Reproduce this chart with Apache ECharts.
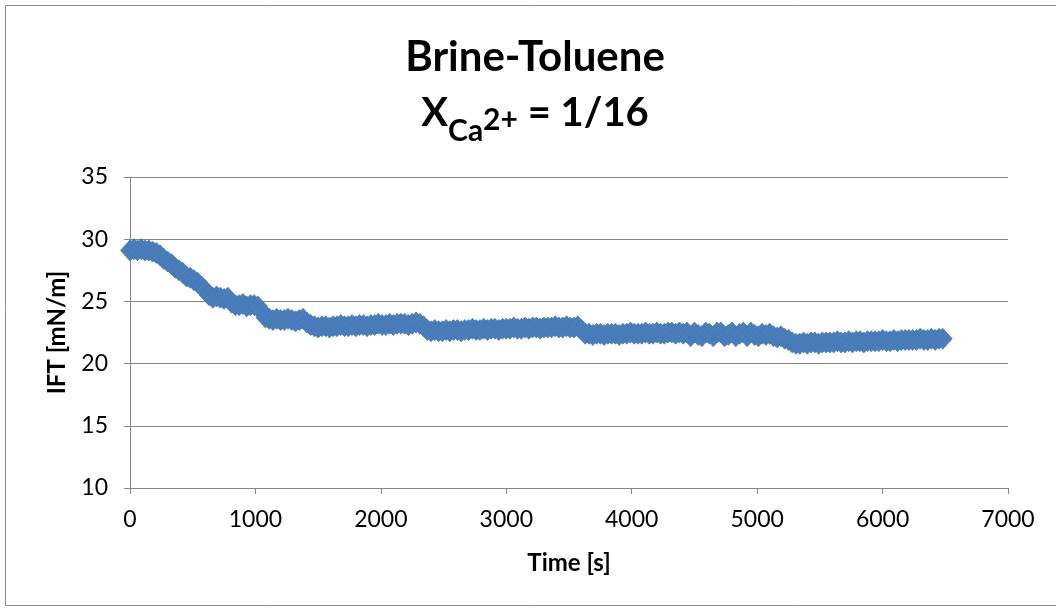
<!DOCTYPE html>
<html>
<head>
<meta charset="utf-8">
<script src="https://cdn.jsdelivr.net/npm/echarts@6/dist/echarts.min.js"></script>
<style>
  html, body { margin: 0; padding: 0; background: #fff; }
  #chart { width: 1056px; height: 610px; }
</style>
</head>
<body>
<div id="chart"></div>
<script>
// sampling interval of the IFT measurement, seconds
const sampleStep = 30
// IFT [mN/m], one value every sampleStep seconds from t = 0
const iftValues = [
  29.1, 29.2, 29.1, 29.2, 29.1, 29.1, 29.0,
  28.9, 28.7, 28.4, 28.2, 28.0, 27.7, 27.5, 27.3, 27.0, 26.9, 26.7, 26.5, 26.2, 25.9, 25.5,
  25.3, 25.4, 25.3, 25.2, 25.3,
  24.9,
  24.7, 24.7, 24.8, 24.6, 24.7, 24.7, 24.6,
  24.2, 23.7,
  23.6, 23.5, 23.6, 23.5, 23.5, 23.6, 23.5, 23.4, 23.5, 23.6,
  23.3, 23.1,
  23.0, 22.9, 23.0, 23.0, 22.9, 23.0, 23.0, 23.1, 23.0, 23.0,
  23.1, 23.0, 23.1, 23.1, 23.0, 23.1, 23.1, 23.2, 23.1, 23.1,
  23.2, 23.1, 23.2, 23.2, 23.2, 23.1, 23.2, 23.3, 23.2,
  23.0, 22.7,
  22.6, 22.7, 22.6, 22.6, 22.7, 22.6, 22.7, 22.7, 22.6, 22.7,
  22.7, 22.8, 22.7, 22.7, 22.8, 22.7, 22.8, 22.8, 22.7, 22.8,
  22.8, 22.8, 22.9, 22.8, 22.8, 22.9, 22.8, 22.9, 22.9, 22.8,
  22.9, 22.9, 22.9, 23.0, 22.9, 22.9, 23.0, 22.9, 22.9, 23.0,
  22.7, 22.4,
  22.4, 22.3, 22.4, 22.4, 22.3, 22.4, 22.4, 22.4, 22.3, 22.4,
  22.4, 22.5, 22.4, 22.4, 22.4, 22.5, 22.4, 22.4, 22.5, 22.4,
  22.4, 22.5, 22.5, 22.4, 22.5, 22.4,
  22.5, 22.2, 22.5, 22.3, 22.2, 22.5, 22.4, 22.2, 22.5, 22.5,
  22.2, 22.3, 22.5, 22.2, 22.4, 22.5, 22.2, 22.5, 22.3, 22.2,
  22.4,
  22.3, 22.4, 22.2, 22.1, 22.2, 22.0, 21.9,
  21.7,
  21.6, 21.6, 21.7, 21.6, 21.7, 21.7, 21.6, 21.7, 21.7, 21.7,
  21.7, 21.8, 21.7, 21.7, 21.8, 21.7, 21.8, 21.8, 21.7, 21.8,
  21.8, 21.8, 21.8, 21.9, 21.8, 21.8, 21.9, 21.8, 21.9, 21.9,
  21.9, 21.9, 21.9, 22.0, 21.9, 21.9, 22.0, 21.9, 22.0, 22.0
]
const xTicks = { min: 0, max: 7000, interval: 1000 }
const yTicks = { min: 10, max: 35, interval: 5 }

const font = 'Lato, "Open Sans", sans-serif'
const gray = '#868686'

let points = iftValues.map((v, i) => [i * sampleStep, v])

let chart = echarts.init(document.getElementById('chart'), null, {renderer: 'canvas'})
let option = {
  animation: false,
  backgroundColor: '#fff',
  grid: {
    left: 130,
    right: 48,
    top: 177,
    bottom: 122
  },
  graphic: [
    {
      type: 'rect',
      silent: true,
      shape: {x: 5.5, y: 5.5, width: 1100, height: 600},
      style: {fill: 'none', stroke: '#8c8c8c', lineWidth: 1}
    },
    {
      type: 'text',
      x: 535,
      y: 57,
      style: {
        text: 'Brine-Toluene',
        font: 'bold 42px ' + font,
        fill: '#000',
        textAlign: 'center',
        textVerticalAlign: 'middle'
      }
    },
    {
      type: 'text',
      x: 535,
      y: 93,
      style: {
        text: '{m|X}{sub|Ca}{sup|2+}{m| = 1/16}',
        textAlign: 'center',
        textVerticalAlign: 'top',
        fill: '#000',
        rich: {
          m: {fontSize: 40, fontWeight: 'bold', fontFamily: font, lineHeight: 50, verticalAlign: 'top', padding: [0, 0, 0, 0]},
          sub: {fontSize: 30, fontWeight: 'bold', fontFamily: font, lineHeight: 36, verticalAlign: 'top', padding: [23, 0, 0, 0]},
          sup: {fontSize: 30, fontWeight: 'bold', fontFamily: font, lineHeight: 36, verticalAlign: 'top', padding: [12, 0, 0, 0]}
        }
      }
    }
  ],
  xAxis: {
    type: 'value',
    min: xTicks.min,
    max: xTicks.max,
    interval: xTicks.interval,
    name: 'Time [s]',
    nameLocation: 'middle',
    nameGap: 63,
    nameMoveOverlap: false,
    nameTextStyle: {color: '#000', fontSize: 24, fontWeight: 'bold', fontFamily: font},
    axisLine: {show: true, onZero: false, lineStyle: {color: gray, width: 1}},
    axisTick: {show: true, length: 6, lineStyle: {color: gray}},
    axisLabel: {
      color: '#000',
      fontSize: 23,
      fontFamily: font,
      margin: 20,
      formatter: function(val) {
        return String(val)
      }
    },
    splitLine: {show: false}
  },
  yAxis: {
    type: 'value',
    min: yTicks.min,
    max: yTicks.max,
    interval: yTicks.interval,
    name: 'IFT [mN/m]',
    nameLocation: 'middle',
    nameGap: 61,
    nameMoveOverlap: false,
    nameTextStyle: {color: '#000', fontSize: 24, fontWeight: 'bold', fontFamily: font},
    axisLine: {show: true, onZero: false, lineStyle: {color: gray, width: 1}},
    axisTick: {show: true, length: 6, lineStyle: {color: gray}},
    axisLabel: {color: '#000', fontSize: 23, fontFamily: font, margin: 22},
    splitLine: {show: true, lineStyle: {color: gray, width: 1}}
  },
  series: [
    {
      type: 'scatter',
      symbol: 'diamond',
      symbolSize: [19, 21],
      itemStyle: {color: '#4a7ebb', borderColor: '#4576b2', borderWidth: 0.75, opacity: 1},
      emphasis: {disabled: true},
      data: points
    }
  ]
}
chart.setOption(option)
</script>
</body>
</html>
